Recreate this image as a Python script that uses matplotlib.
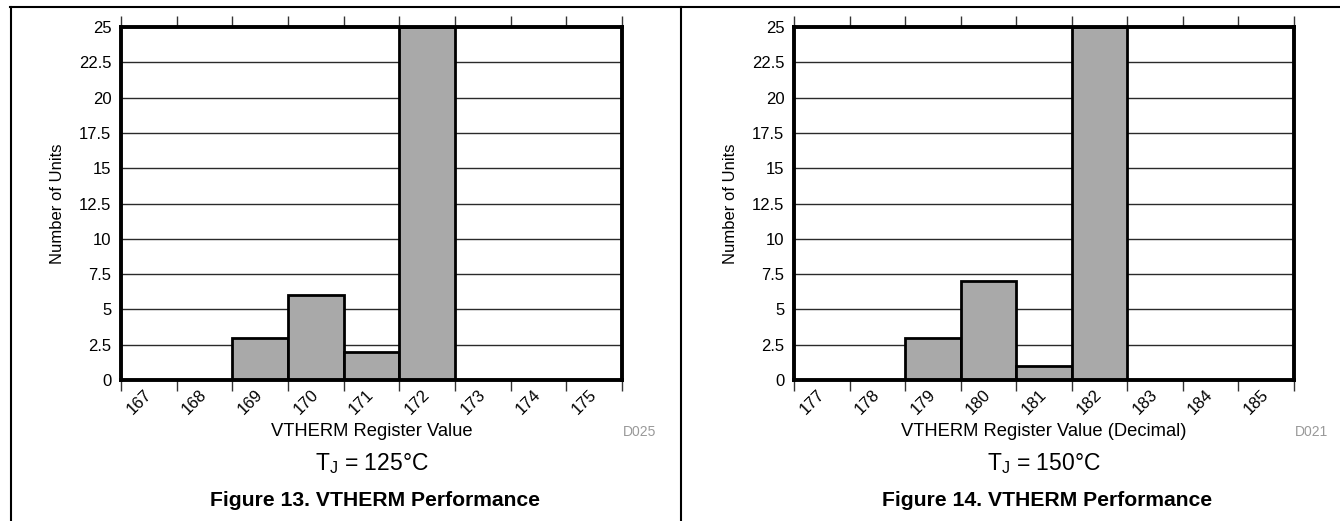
import numpy as np
import matplotlib
matplotlib.use("Agg")
import matplotlib.pyplot as plt
from matplotlib.lines import Line2D

# data
left_bins = [167, 168, 169, 170, 171, 172, 173, 174, 175]
left_counts = [0, 0, 3, 6, 2, 25, 0, 0, 0]
right_bins = [177, 178, 179, 180, 181, 182, 183, 184, 185]
right_counts = [0, 0, 3, 7, 1, 25, 0, 0, 0]
y_ticks = [0, 2.5, 5, 7.5, 10, 12.5, 15, 17.5, 20, 22.5, 25]
y_labels = ["0", "2.5", "5", "7.5", "10", "12.5", "15", "17.5", "20", "22.5", "25"]

plt.rcParams["font.family"] = ["Liberation Sans", "DejaVu Sans"]

W, H = 1340, 521
fig = plt.figure(figsize=(W / 100, H / 100), dpi=100)


def px(x0, y0, x1, y1):
    # pixel box -> figure fraction rect
    return [x0 / W, 1 - y1 / H, (x1 - x0) / W, (y1 - y0) / H]


def panel(rect, bins, counts, xlabel, code, temp, caption):
    ax = fig.add_axes(px(*rect))
    bins = np.array(bins)
    ax.bar(bins, counts, width=1, color="#a9a9a9", edgecolor="black",
           linewidth=2, zorder=3)
    ax.set_xlim(bins[0] - 0.5, bins[-1] + 0.5)
    ax.set_ylim(0, 25)
    ax.set_yticks(y_ticks)
    ax.set_yticklabels(y_labels, fontsize=12)
    ax.yaxis.grid(True, color="#2a2a2a", linewidth=1, zorder=1)
    ax.set_xticks(bins)
    ax.set_xticklabels([str(b) for b in bins], rotation=45, ha="right",
                       va="center", rotation_mode="anchor", fontsize=12)
    ax.set_xticks(np.append(bins - 0.5, bins[-1] + 0.5), minor=True)
    ax.tick_params(axis="x", which="major", length=0, pad=9)
    ax.tick_params(axis="x", which="minor", length=8, width=1,
                   color="#333333", top=True, bottom=True, direction="out")
    ax.tick_params(axis="y", length=0, pad=7)
    for s in ax.spines.values():
        s.set_linewidth(2.8)
        s.set_zorder(4)
    ax.set_ylabel("Number of Units", fontsize=12, labelpad=10)

    cx = (rect[0] + rect[2]) / 2 / W
    fig.text(cx, 1 - 432 / H, xlabel, ha="center", va="center", fontsize=13.2)
    fig.text((rect[2] + 18) / W, 1 - 432 / H, code, ha="center", va="center",
             fontsize=10, color="#999999")
    fig.text(cx, 1 - 464 / H, temp, ha="center", va="center", fontsize=16.5)
    fig.text(cx + 3 / W, 1 - 501 / H, caption, ha="center", va="center",
             fontsize=15.2, fontweight="bold")
    return ax


panel((121, 27, 622, 380), left_bins, left_counts, "VTHERM Register Value",
      "D025", r"$\mathregular{T_J}$ = 125°C", "Figure 13. VTHERM Performance")
panel((794, 27, 1294, 380), right_bins, right_counts,
      "VTHERM Register Value (Decimal)", "D021", r"$\mathregular{T_J}$ = 150°C",
      "Figure 14. VTHERM Performance")

# page frame lines
top = 1 - 7 / H
fig.add_artist(Line2D([10 / W, 1], [top, top], color="black", lw=1.5))
fig.add_artist(Line2D([11 / W, 11 / W], [0, top], color="black", lw=1.5))
fig.add_artist(Line2D([681 / W, 681 / W], [0, top], color="black", lw=1.5))

fig.savefig("out.png", dpi=100)
